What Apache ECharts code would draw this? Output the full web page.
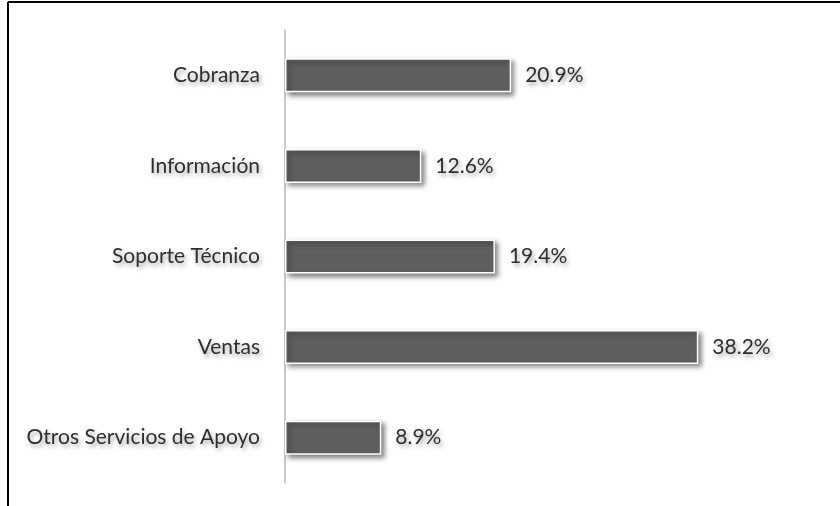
<!DOCTYPE html>
<html>
<head>
<meta charset="utf-8">
<script src="https://cdn.jsdelivr.net/npm/echarts@6/dist/echarts.min.js"></script>
<style>
  html, body { margin: 0; padding: 0; background: #fff; }
  #chart { width: 840px; height: 506px; }
</style>
</head>
<body>
<div id="chart"></div>
<script>
// categories from bottom to top (category axis on y starts at the bottom)
var categories = ["Otros Servicios de Apoyo", "Ventas", "Soporte Técnico", "Información", "Cobranza"];
var values = [8.9, 38.2, 19.4, 12.6, 20.9];

var textShadow = {
  textShadowColor: "rgba(0,0,0,0.35)",
  textShadowBlur: 4,
  textShadowOffsetX: 2,
  textShadowOffsetY: 3
};

var chart = echarts.init(document.getElementById("chart"));
chart.setOption({
  animation: false,
  backgroundColor: "#fff",
  graphic: [
    // chart frame (top and left edges)
    { type: "line", shape: { x1: 8, y1: 2, x2: 840, y2: 2 }, style: { stroke: "#000", lineWidth: 2 } },
    { type: "line", shape: { x1: 8, y1: 2, x2: 8, y2: 506 }, style: { stroke: "#000", lineWidth: 2 } }
  ],
  grid: { left: 285, top: 30, width: 462, height: 453 },
  xAxis: {
    type: "value",
    min: 0,
    max: 42.7,
    show: false
  },
  yAxis: {
    type: "category",
    data: categories,
    axisTick: { show: false },
    axisLine: { lineStyle: { color: "#b8b8b8", width: 1.5 } },
    axisLabel: Object.assign({
      color: "#2e2e2e",
      fontFamily: "Lato",
      fontSize: 21,
      margin: 25
    }, textShadow)
  },
  series: [
    {
      type: "bar",
      data: values,
      barWidth: 34,
      itemStyle: {
        color: "#5f5f5f",
        borderColor: "#fff",
        borderWidth: 1.5,
        shadowColor: "rgba(0,0,0,0.5)",
        shadowBlur: 5,
        shadowOffsetX: 3,
        shadowOffsetY: 3
      },
      label: Object.assign({
        show: true,
        position: "right",
        distance: 14,
        color: "#2e2e2e",
        fontFamily: "Lato",
        fontSize: 21,
        formatter: function (p) { return p.value.toFixed(1) + "%"; }
      }, textShadow)
    }
  ]
});
</script>
</body>
</html>
